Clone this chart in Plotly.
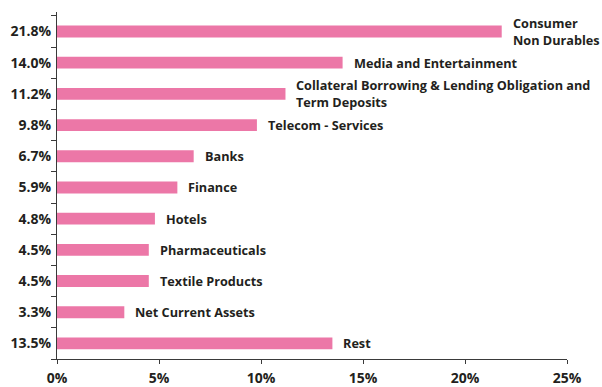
import plotly.graph_objects as go

# Portfolio allocation by sector
categories = [
    "Consumer<br>Non Durables",
    "Media and Entertainment",
    "Collateral Borrowing & Lending Obligation and<br>Term Deposits",
    "Telecom - Services",
    "Banks",
    "Finance",
    "Hotels",
    "Pharmaceuticals",
    "Textile Products",
    "Net Current Assets",
    "Rest",
]
weights = [21.8, 14.0, 11.2, 9.8, 6.7, 5.9, 4.8, 4.5, 4.5, 3.3, 13.5]
pct_labels = [f"{w:.1f}%" for w in weights]
x_ticks = [0, 5, 10, 15, 20, 25]
x_tick_labels = [f"{t}%" for t in x_ticks]

BAR = "#EC77A7"
INK = "#231F20"
FONT = "Open Sans"

fig = go.Figure(
    go.Bar(
        x=weights,
        y=categories,
        orientation="h",
        marker=dict(color=BAR, line=dict(width=0)),
        width=0.38,
        hoverinfo="skip",
    )
)

for cat, w in zip(categories, weights):
    fig.add_annotation(
        x=w, y=cat, text=cat, showarrow=False,
        xanchor="left", yanchor="middle", align="left", xshift=9,
        font=dict(family=FONT, size=12.7, color=INK, weight="bold"),
    )

fig.update_layout(
    width=602, height=387,
    margin=dict(l=57, r=35, t=12, b=28),
    plot_bgcolor="white", paper_bgcolor="white",
    showlegend=False,
    font=dict(family=FONT, color=INK),
)
fig.update_xaxes(
    range=[0, 25], tickvals=x_ticks, ticktext=x_tick_labels,
    showgrid=False, zeroline=False, automargin=False,
    showline=True, linecolor="#3a3a3a", linewidth=1,
    ticks="outside", ticklen=4, tickcolor="#3a3a3a", ticklabelstandoff=2,
    tickfont=dict(family=FONT, size=14, color=INK, weight="bold"),
)
fig.update_yaxes(
    type="category", autorange="reversed",
    tickvals=categories, ticktext=pct_labels,
    tickson="boundaries", automargin=False,
    showgrid=False, zeroline=False,
    showline=True, linecolor="#3a3a3a", linewidth=1,
    ticks="outside", ticklen=5, tickcolor="#3a3a3a", ticklabelstandoff=2,
    tickfont=dict(family=FONT, size=14, color=INK, weight="bold"),
)

fig.write_html("out.html")
